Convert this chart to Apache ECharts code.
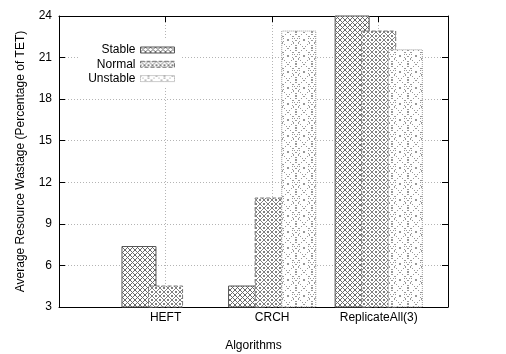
<!DOCTYPE html>
<html>
<head>
<meta charset="utf-8">
<script src="https://cdn.jsdelivr.net/npm/echarts@6/dist/echarts.min.js"></script>
<style>
  html, body { margin: 0; padding: 0; background: #fff; }
  #chart { width: 506px; height: 354px; }
</style>
</head>
<body>
<div id="chart"></div>
<script>
const categories = ['HEFT', 'CRCH', 'ReplicateAll(3)']
const seriesNames = ['Stable', 'Normal', 'Unstable']
const stableData = [7.4, 4.55, 26]
const normalData = [4.55, 10.9, 22.95]
const unstableData = [3, 22.95, 21.6]
const yTicks = [3, 6, 9, 12, 15, 18, 21, 24]

// hatch patterns drawn pixel by pixel, gnuplot style
function makePattern (size, color, pixels) {
  const c = document.createElement('canvas')
  c.width = size
  c.height = size
  const ctx = c.getContext('2d')
  ctx.fillStyle = '#fff'
  ctx.fillRect(0, 0, size, size)
  ctx.fillStyle = color
  pixels.forEach(p => ctx.fillRect(p[0], p[1], 1, 1))
  return c
}

function crossPixels (n, step) {
  const px = []
  for (let i = 0; i < n; i += step) {
    px.push([i, i])
    px.push([n - 1 - i, i])
  }
  return px
}

const stableTile = makePattern(5, '#6a6a6a', [[0, 0], [1, 1], [2, 2], [3, 3], [4, 4], [4, 0], [3, 1], [1, 3], [0, 4]])

const normalPx = crossPixels(8, 1)
normalPx.push([3, 0], [4, 0], [3, 7], [4, 7], [0, 3], [0, 4], [7, 3], [7, 4])
const normalTile = makePattern(8, '#808080', normalPx)

const unstablePx = crossPixels(16, 2)
;[[7, 2], [8, 2], [5, 4], [10, 4], [4, 6], [11, 6], [4, 9], [11, 9], [5, 11], [10, 11], [7, 13], [8, 13],
  [0, 7], [0, 8], [15, 7], [15, 8], [7, 0], [8, 0], [7, 15], [8, 15]].forEach(p => unstablePx.push(p))
const unstableTile = makePattern(16, '#999', unstablePx)

const fills = [stableTile, normalTile, unstableTile]
const borders = [
  { color: '#555', type: 'solid' },
  { color: '#777', type: 'dashed' },
  { color: '#999', type: 'dotted' }
]
const allData = [stableData, normalData, unstableData]

const chart = echarts.init(document.getElementById('chart'))

const textStyle = { color: '#000', fontFamily: 'Liberation Sans', fontSize: 12 }
const gridLine = { show: true, lineStyle: { color: '#b4b4b4', type: [1, 2], width: 1 } }

chart.setOption({
  animation: false,
  backgroundColor: '#fff',
  textStyle: textStyle,
  grid: { left: 59, right: 58, top: 16, bottom: 47, containLabel: false, outerBoundsMode: 'none' },
  graphic: [{
    type: 'rect',
    left: 80,
    top: 38,
    z: 1,
    shape: { width: 102, height: 49 },
    style: { fill: '#fff' }
  }],
  legend: seriesNames.map((name, i) => ({
    data: [name],
    right: 331,
    top: 44 + i * 14.3,
    align: 'right',
    icon: 'rect',
    itemWidth: 34,
    itemHeight: 6,
    padding: 0,
    textStyle: textStyle,
    itemStyle: { borderColor: borders[i].color, borderWidth: 1, borderType: borders[i].type }
  })),
  xAxis: [{
    type: 'value',
    min: -1,
    max: 2.65,
    interval: 1,
    name: 'Algorithms',
    nameLocation: 'middle',
    nameGap: 33,
    nameTextStyle: textStyle,
    axisLine: { show: true, onZero: false, lineStyle: { color: '#000', width: 1 } },
    axisTick: { show: true, inside: true, length: 6, lineStyle: { color: '#000' } },
    axisLabel: {
      margin: 5,
      color: '#000',
      fontFamily: 'Liberation Sans',
      fontSize: 12,
      showMinLabel: true,
      showMaxLabel: false,
      formatter: v => (v >= 0 && categories[v] !== undefined ? categories[v] : '')
    },
    splitLine: gridLine
  }, {
    type: 'value',
    position: 'top',
    min: -1,
    max: 2.65,
    interval: 1,
    axisLine: { show: true, onZero: false, lineStyle: { color: '#000', width: 1 } },
    axisTick: { show: true, inside: true, length: 6, lineStyle: { color: '#000' } },
    axisLabel: { show: false },
    splitLine: { show: false }
  }],
  yAxis: [{
    type: 'value',
    min: yTicks[0],
    max: yTicks[yTicks.length - 1],
    interval: 3,
    name: 'Average Resource Wastage (Percentage of TET)',
    nameLocation: 'middle',
    nameGap: 32,
    nameTextStyle: textStyle,
    axisLine: { show: true, onZero: false, lineStyle: { color: '#000', width: 1 } },
    axisTick: { show: true, inside: true, length: 6, lineStyle: { color: '#000' } },
    axisLabel: { margin: 7, color: '#000', fontFamily: 'Liberation Sans', fontSize: 12 },
    splitLine: gridLine
  }, {
    type: 'value',
    position: 'right',
    min: yTicks[0],
    max: yTicks[yTicks.length - 1],
    interval: 3,
    axisLine: { show: true, onZero: false, lineStyle: { color: '#000', width: 1 } },
    axisTick: { show: true, inside: true, length: 6, lineStyle: { color: '#000' } },
    axisLabel: { show: false },
    splitLine: { show: false }
  }],
  series: seriesNames.map((name, i) => ({
    name: name,
    type: 'bar',
    xAxisIndex: 0,
    yAxisIndex: 0,
    barWidth: 35,
    barGap: '-24%',
    clip: true,
    data: allData[i].map((v, j) => [j, v]),
    itemStyle: {
      color: { image: fills[i], repeat: 'repeat' },
      borderColor: borders[i].color,
      borderWidth: 1,
      borderType: borders[i].type
    }
  }))
})
</script>
</body>
</html>
